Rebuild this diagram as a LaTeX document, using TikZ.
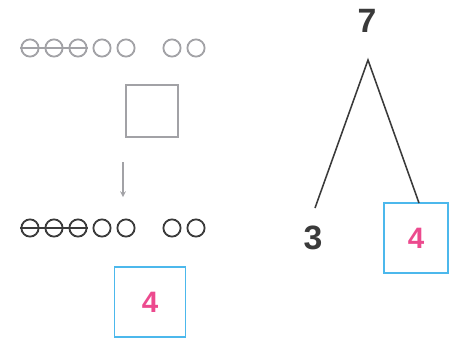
\documentclass[tikz,border=0pt]{standalone}
\usepackage{fontspec}
\setmainfont{Liberation Sans}
\usepackage{tikz}
\usetikzlibrary{positioning,calc}
\definecolor{beadgray}{HTML}{A2A2A6}
\definecolor{beaddark}{HTML}{3A3A3A}
\definecolor{boxblue}{HTML}{4CB8EC}
\definecolor{numpink}{HTML}{EC4A8E}

\begin{document}
\begin{tikzpicture}[
  x=0.025cm, y=-0.025cm,
  lightbead/.style={circle, draw=beadgray, line width=1.3pt, minimum size=0.43cm, inner sep=0pt},
  darkbead/.style={circle, draw=beaddark, line width=1.3pt, minimum size=0.43cm, inner sep=0pt},
  emptybox/.style={draw=beadgray, line width=1.2pt, minimum width=1.3cm, minimum height=1.3cm, inner sep=0pt},
  answerbox/.style={draw=boxblue, line width=1pt, inner sep=0pt, font=\fontsize{21}{21}\selectfont\bfseries\color{numpink}},
  treenum/.style={font=\fontsize{24}{24}\selectfont\bfseries\color{beaddark}, inner sep=1pt},
  treeline/.style={beaddark, line width=1.1pt},
  downarrow/.style={->, >=stealth, beadgray, line width=0.8pt},
]
\useasboundingbox (0,0) rectangle (450,338);

% Top row of beads (gray), first three crossed out
\foreach \xx [count=\i] in {30,54,78,102,126,172,196} {
  \node[lightbead] (t\i) at (\xx,48) {};
}
\draw[beadgray, line width=1.2pt] (t1.west) -- (t3.east);

% Empty square
\node[emptybox] (blank) at (152,111) {};

% Small arrow down
\coordinate (arrtop) at (123,162);
\coordinate (arrbot) at (123,197);
\draw[downarrow] (arrtop) -- (arrbot);

% Bottom row of beads (dark), first three crossed out
\foreach \xx [count=\i] in {30,54,78,102,126,172,196} {
  \node[darkbead] (b\i) at (\xx,228) {};
}
\draw[beaddark, line width=1.2pt] (b1.west) -- (b3.east);

% Answer box below
\node[answerbox, minimum width=1.78cm, minimum height=1.75cm] (ans) at (150,302) {4};

% Number bond on the right
\node[treenum] (seven) at (367,21) {7};
\node[treenum] (three) at (313,238) {3};
\node[answerbox, minimum width=1.6cm, minimum height=1.75cm] (four) at (416,238) {4};

\coordinate (apex) at (368,60);
\coordinate (leftend) at (315,208);
\coordinate (rightend) at (419,203);
\draw[treeline] (leftend) -- (apex) -- (rightend);
\end{tikzpicture}
\end{document}
